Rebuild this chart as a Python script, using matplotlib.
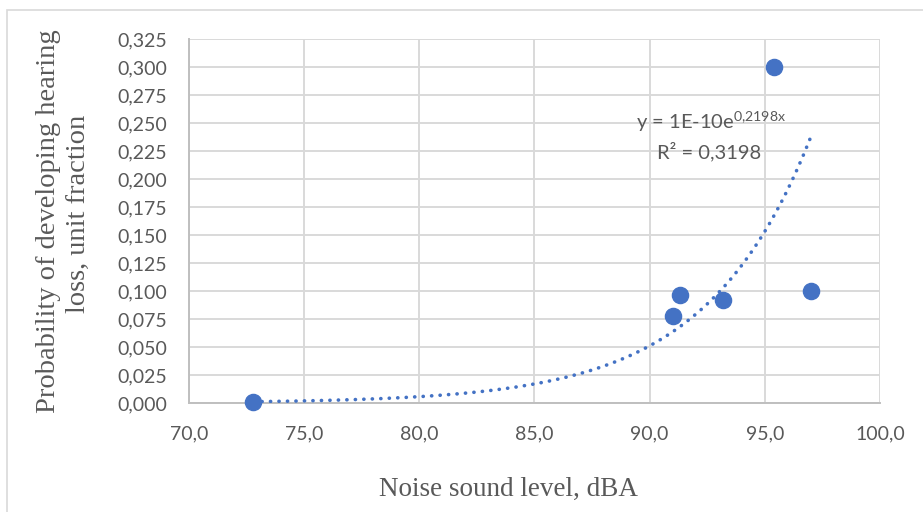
"""
Scatter of hearing loss probability vs noise level with exponential trend.
"""

import numpy as np
import matplotlib.pyplot as plt
from matplotlib.patches import Rectangle
from matplotlib.ticker import FuncFormatter, MultipleLocator

# Data
noise_dba = [72.8, 91.0, 91.3, 93.2, 95.4, 97.0]
probability = [0.001, 0.078, 0.096, 0.092, 0.300, 0.100]

eq_text = "y = 1E-10e$^{\\mathrm{0{,}2198x}}$"
r2_text = "R² = 0,3198"

x_ticks = [70, 75, 80, 85, 90, 95, 100]

BLUE = "#4472C4"
GRAY_TEXT = "#595959"
GRID = "#D9D9D9"
W, H = 923, 512

plt.rcParams["font.family"] = ["Lato", "DejaVu Sans"]
plt.rcParams["mathtext.fontset"] = "custom"
plt.rcParams["mathtext.rm"] = "Lato"


def comma(fmt):
    return FuncFormatter(lambda v, _: format(v, fmt).replace(".", ","))


def main():
    fig = plt.figure(figsize=(W / 100, H / 100), dpi=100)
    ax = fig.add_axes([189 / W, 1 - 403 / H, 691 / W, 364 / H])

    # outer chart border
    fig.patches.append(Rectangle((7 / W, -0.01), 1.0, 1 - 10 / H + 0.01,
                                 transform=fig.transFigure, fill=False,
                                 edgecolor=GRID, linewidth=1.2))

    # exponential trendline (least squares on log y, like Excel)
    x = np.array(noise_dba)
    y = np.array(probability)
    b, ln_a = np.polyfit(x, np.log(y), 1)
    xs = np.linspace(x.min(), x.max(), 300)
    ax.plot(xs, np.exp(ln_a) * np.exp(b * xs), color=BLUE, linewidth=2.6,
            linestyle=(0, (0.05, 2.3)), dash_capstyle="round", zorder=3)

    ax.scatter(noise_dba, probability, s=135, color=BLUE, zorder=4,
               clip_on=False)

    ax.set_xlim(70, 100)
    ax.set_ylim(0, 0.325)
    ax.set_xticks(x_ticks)
    ax.yaxis.set_major_locator(MultipleLocator(0.025))
    ax.xaxis.set_major_formatter(comma(".1f"))
    ax.yaxis.set_major_formatter(comma(".3f"))

    ax.grid(True, color=GRID, linewidth=1.4)
    ax.set_axisbelow(True)
    for side in ("top", "right"):
        ax.spines[side].set_visible(False)
    for side in ("left", "bottom"):
        ax.spines[side].set_color("#BFBFBF")
        ax.spines[side].set_linewidth(1.4)
    ax.tick_params(length=0, labelsize=14, labelcolor=GRAY_TEXT)
    ax.tick_params(axis="y", pad=16)
    ax.tick_params(axis="x", pad=16)

    # axis titles (Excel places them relative to the chart area)
    serif = dict(family="Liberation Serif", color=GRAY_TEXT)
    fig.text(508 / W, 1 - 489 / H, "Noise sound level, dBA", fontsize=19.5,
             ha="center", va="center", **serif)
    fig.text(49 / W, 1 - 221 / H, "Probability of developing hearing",
             fontsize=20.5, rotation=90, ha="center", va="center", **serif)
    fig.text(78 / W, 1 - 214 / H, "loss, unit fraction",
             fontsize=20.5, rotation=90, ha="center", va="center", **serif)

    ax.text(92.67, 0.2515, eq_text, fontsize=14.5, color=GRAY_TEXT,
            ha="center", va="center")
    ax.text(92.6, 0.2245, r2_text, fontsize=14.5, color=GRAY_TEXT,
            ha="center", va="center")

    fig.savefig("out.png", dpi=100)


if __name__ == "__main__":
    main()
